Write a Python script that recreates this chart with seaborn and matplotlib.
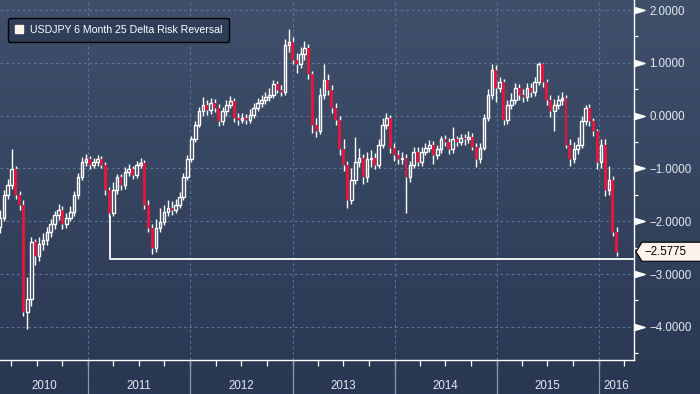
import numpy as np
import pandas as pd
import matplotlib.pyplot as plt
import matplotlib.dates as mdates
import matplotlib.transforms as mtransforms
from matplotlib.patches import Polygon, Patch
from matplotlib.ticker import FixedLocator
import seaborn as sns

# --- data (bi-weekly candles) ---
series_name = 'USDJPY 6 Month 25 Delta Risk Reversal'
first_candle = '2010-02-20'
first_open = -2.10
last_value = -2.5775

closes = [
    -1.93, -1.50, -1.31, -1.02, -1.50, -1.69, -3.71, -3.48, -2.40, -2.65,
    -2.44, -2.35, -2.20, -2.06, -1.88, -1.78, -2.06, -1.93, -1.82, -1.50,
    -1.17, -0.87, -0.83, -0.93, -0.87, -0.83, -0.93, -1.40, -1.84, -1.40,
    -1.17, -1.31, -1.06, -1.02, -1.12, -0.93, -0.89, -1.69, -2.12, -2.50,
    -2.12, -2.01, -1.82, -1.74, -1.78, -1.69, -1.55, -1.17, -0.83, -0.45,
    -0.17, 0.08, 0.21, 0.11, 0.23, 0.15, -0.11, 0.08, 0.21, 0.27,
    -0.04, -0.08, -0.04, -0.08, 0.02, 0.15, 0.23, 0.30, 0.36, 0.40,
    0.59, 0.49, 0.45, 1.34, 1.40, 1.06, 0.97, 1.16, 1.29, 0.78,
    -0.17, -0.30, 0.40, 0.68, 0.49, 0.15, -0.08, -0.64, -0.93, -1.59,
    -1.21, -0.87, -0.80, -1.17, -0.83, -0.80, -0.93, -0.55, -0.17, -0.04,
    -0.61, -0.74, -0.83, -0.80, -1.16, -0.93, -0.68, -0.87, -0.68, -0.61,
    -0.55, -0.74, -0.64, -0.45, -0.49, -0.64, -0.45, -0.49, -0.42, -0.45,
    -0.40, -0.59, -0.83, -0.61, -0.04, 0.40, 0.87, 0.53, 0.64, -0.08,
    0.21, 0.30, 0.53, 0.40, 0.36, 0.53, 0.45, 0.64, 0.98, 0.64,
    0.30, 0.08, 0.21, 0.30, 0.34, -0.55, -0.83, -0.64, -0.55, -0.11,
    0.15, -0.11, -0.30, -0.87, -0.55, -1.40, -1.21, -2.20, -2.5775,
]
highs = [
    -1.78, -1.40, -1.20, -0.64, -0.95, -1.42, -1.60, -3.05, -2.30, -2.33,
    -2.30, -2.22, -2.10, -1.95, -1.80, -1.68, -1.72, -1.85, -1.72, -1.42,
    -1.08, -0.78, -0.73, -0.76, -0.80, -0.75, -0.76, -0.88, -1.35, -1.25,
    -1.10, -1.10, -0.98, -0.92, -0.95, -0.85, -0.80, -0.84, -1.60, -2.05,
    -1.95, -1.75, -1.70, -1.60, -1.62, -1.58, -1.45, -1.08, -0.75, -0.38,
    -0.10, 0.16, 0.35, 0.30, 0.33, 0.32, 0.22, 0.16, 0.30, 0.38,
    0.33, 0.05, 0.05, 0.04, 0.12, 0.24, 0.33, 0.40, 0.45, 0.52,
    0.68, 0.66, 0.58, 1.45, 1.65, 1.48, 1.18, 1.30, 1.42, 1.35,
    0.84, -0.05, 0.52, 0.98, 0.78, 0.58, 0.24, 0.00, -0.45, -0.85,
    -1.00, -0.40, -0.62, -0.72, -0.68, -0.65, -0.70, -0.45, -0.05, 0.05,
    0.02, -0.52, -0.65, -0.68, -0.72, -0.85, -0.60, -0.60, -0.60, -0.52,
    -0.46, -0.48, -0.55, -0.38, -0.36, -0.42, -0.22, -0.38, -0.34, -0.35,
    -0.30, -0.33, -0.52, -0.52, 0.04, 0.50, 0.97, 0.95, 0.74, 0.70,
    0.30, 0.42, 0.62, 0.60, 0.50, 0.62, 0.62, 0.74, 1.02, 1.00,
    0.70, 0.40, 0.32, 0.40, 0.44, 0.40, -0.45, -0.50, -0.40, 0.00,
    0.20, 0.22, -0.05, -0.25, -0.45, -0.45, -0.95, -1.15, -2.10,
]
lows = [
    -2.22, -2.00, -1.58, -1.38, -1.58, -1.78, -3.80, -4.05, -3.60, -2.82,
    -2.75, -2.55, -2.45, -2.30, -2.15, -1.98, -2.15, -2.12, -2.00, -1.90,
    -1.58, -1.22, -0.95, -1.02, -1.00, -0.95, -1.00, -1.50, -1.92, -1.90,
    -1.48, -1.40, -1.38, -1.15, -1.20, -1.18, -1.00, -1.76, -2.20, -2.62,
    -2.58, -2.20, -2.08, -1.90, -1.88, -1.85, -1.75, -1.60, -1.22, -0.88,
    -0.50, -0.22, 0.00, 0.02, 0.03, 0.06, -0.20, -0.18, 0.00, 0.14,
    -0.12, -0.18, -0.14, -0.16, -0.14, -0.05, 0.08, 0.16, 0.22, 0.28,
    0.33, 0.42, 0.38, 0.40, 1.20, 0.98, 0.80, 0.90, 1.05, 0.70,
    -0.32, -0.40, -0.35, 0.32, 0.40, 0.05, -0.18, -0.75, -1.05, -1.75,
    -1.68, -1.30, -0.98, -1.30, -1.25, -0.98, -1.02, -1.00, -0.62, -0.25,
    -0.70, -0.85, -0.92, -0.92, -1.84, -1.25, -1.00, -0.95, -0.95, -0.75,
    -0.68, -0.92, -0.82, -0.70, -0.58, -0.72, -0.70, -0.58, -0.56, -0.55,
    -0.52, -0.66, -0.98, -0.90, -0.66, -0.10, 0.32, 0.25, 0.45, -0.18,
    -0.15, 0.12, 0.22, 0.30, 0.26, 0.28, 0.36, 0.38, 0.58, 0.55,
    0.20, -0.02, -0.30, 0.12, 0.20, -0.62, -0.95, -0.90, -0.72, -0.62,
    -0.18, -0.20, -0.38, -1.02, -1.00, -1.52, -1.50, -2.28, -2.65,
]

# annotation: line from the 2011 dip across to the latest value
support_date = '2011-03-20'
support_top = -1.91
support_level = -2.71

y_ticks = [2, 1, 0, -1, -2, -3, -4]
y_minor = [1.5, 0.5, -0.5, -1.5, -2.5, -3.5, -4.5]
years = [2010, 2011, 2012, 2013, 2014, 2015, 2016]
x_start, x_end = pd.Timestamp('2010-02-20'), pd.Timestamp('2016-05-06')
y_low, y_high = -4.628, 2.19

dates = pd.date_range(first_candle, periods=len(closes), freq='335h')
opens = [first_open] + closes[:-1]
df = pd.DataFrame({'date': dates, 'open': opens, 'high': highs, 'low': lows, 'close': closes})
df['top'] = df[['open', 'close']].max(axis=1)
df['bot'] = df[['open', 'close']].min(axis=1)
df['up'] = df['close'] >= df['open']

sns.set_theme(style='dark', rc={'axes.facecolor': 'none'})
plt.rcParams['font.family'] = ['Liberation Sans', 'DejaVu Sans']

text_col = '#e4eaf3'
grid_col = '#587592'
red = '#e3173d'

fig = plt.figure(figsize=(7, 3.94), dpi=100)

# gradient background
bg = fig.add_axes([0, 0, 1, 1], zorder=-10)
top_rgb = np.array([64, 80, 107]) / 255
bot_rgb = np.array([42, 55, 83]) / 255
t = np.linspace(0, 1, 256)[:, None, None]
grad = top_rgb[None, None, :] * (1 - t) + bot_rgb[None, None, :] * t
bg.imshow(grad, aspect='auto', extent=[0, 1, 0, 1])
bg.axis('off')

ax = fig.add_axes([0, 34 / 394, 634 / 700, 360 / 394])
ax.patch.set_alpha(0)
ax.set_xlim(x_start, x_end)
ax.set_ylim(y_low, y_high)

# dashed grid
for v in y_ticks:
    ax.axhline(v, color=grid_col, lw=0.8, ls=(0, (2.5, 2.5)), zorder=0)
for yr in years[1:]:
    ax.axvline(pd.Timestamp(f'{yr}-01-01'), color=grid_col, lw=0.8, ls=(0, (2.5, 2.5)), zorder=0)

# candles
up = df[df['up']]
dn = df[~df['up']]
ax.vlines(df['date'], df['top'], df['high'], color='white', lw=1.0, zorder=2)
ax.vlines(df['date'], df['low'], df['bot'], color='white', lw=1.0, zorder=2)
ax.bar(up['date'], up['top'] - up['bot'], bottom=up['bot'], width=9.5,
       facecolor='none', edgecolor='white', linewidth=1.0, zorder=3)
ax.bar(dn['date'], dn['top'] - dn['bot'], bottom=dn['bot'], width=10.5,
       color=red, linewidth=0, zorder=3)

# support line annotation
sup = pd.DataFrame({'x': [pd.Timestamp(support_date), pd.Timestamp(support_date), x_end],
                    'y': [support_top, support_level, support_level]})
sns.lineplot(data=sup, x='x', y='y', estimator=None, sort=False, color='white', lw=1.3, ax=ax, zorder=4)
ax.set_xlabel('')
ax.set_ylabel('')

# spines
for side in ['left', 'top']:
    ax.spines[side].set_visible(False)
for side in ['right', 'bottom']:
    ax.spines[side].set_visible(True)
    ax.spines[side].set_color('white')
    ax.spines[side].set_linewidth(1.0)

# right y axis
ax.yaxis.tick_right()
ax.set_yticks(y_ticks)
ax.set_yticklabels([f'{v:.4f}'.replace('-', '\u2212') for v in y_ticks])
ax.yaxis.set_minor_locator(FixedLocator(y_minor))
ax.tick_params(axis='y', which='major', length=0, pad=11, labelsize=8.3, labelcolor=text_col)
ax.tick_params(axis='y', which='minor', right=True, length=3, width=0.9, color='white', direction='out')
ytrans = mtransforms.blended_transform_factory(ax.transAxes, ax.transData)
ax.plot([639 / 634] * len(y_ticks), y_ticks, ls='none',
        marker=[(-1, -0.6), (1, 0), (-1, 0.6)], ms=8, color='white',
        transform=ytrans, clip_on=False, zorder=5)

# bottom axis: quarter ticks, year separators and labels
ax.xaxis.set_major_locator(mdates.MonthLocator(bymonth=[1, 4, 7, 10]))
ax.tick_params(axis='x', which='major', bottom=True, length=4, width=0.9, color='white',
               direction='out', labelbottom=False)
xtrans = mtransforms.blended_transform_factory(ax.transData, ax.transAxes)
for yr in years:
    start = max(pd.Timestamp(f'{yr}-01-01'), x_start)
    end = min(pd.Timestamp(f'{yr + 1}-01-01'), x_end)
    if yr > years[0]:
        ax.plot([start, start], [0, -34 / 360], color='#8d98a8', lw=0.9,
                transform=xtrans, clip_on=False)
    ax.text(start + (end - start) / 2, -26 / 360, str(yr), transform=xtrans,
            ha='center', va='center', fontsize=8.3, color=text_col)

# last value tag
v = last_value
hh = 9.5 / 52.8
tag = Polygon([(636 / 634, v), (642 / 634, v + hh), (702 / 634, v + hh),
               (702 / 634, v - hh), (642 / 634, v - hh)], closed=True,
              facecolor='#fdf2ec', edgecolor='black', lw=0.8,
              transform=ytrans, clip_on=False, zorder=6)
ax.add_patch(tag)
ax.text(644 / 634, v, f'{v:.4f}'.replace('-', '\u2212'), transform=ytrans,
        ha='left', va='center', fontsize=8.3, color='black', zorder=7)

# legend
leg = ax.legend(handles=[Patch(facecolor='#fdf2ec', edgecolor='#fdf2ec')], labels=[series_name],
                loc='upper left', bbox_to_anchor=(8 / 634, 1 - 18 / 360), borderaxespad=0,
                fontsize=7.6, labelcolor='white', facecolor='#2f3d59', edgecolor='black',
                framealpha=1, fancybox=True, handlelength=0.8, handleheight=0.8,
                handletextpad=0.6, borderpad=0.65)
leg.get_frame().set_linewidth(1.0)

fig.savefig('out.png', dpi=100)
